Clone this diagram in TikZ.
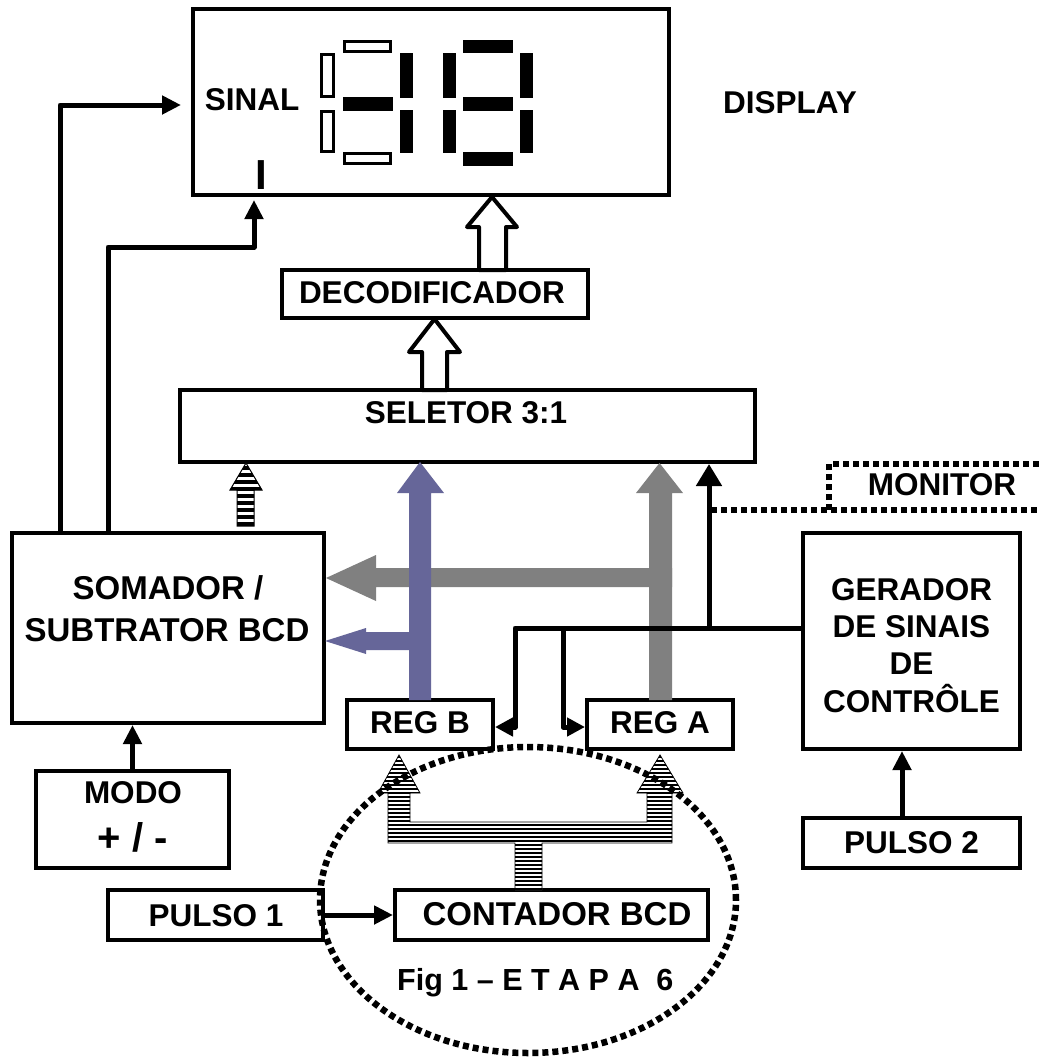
\documentclass[tikz,border=0pt]{standalone}
\usepackage{fontspec}
\setmainfont{Liberation Sans}
\usetikzlibrary{arrows.meta}
\definecolor{regbcol}{HTML}{666699}
\definecolor{regacol}{HTML}{808080}
\newcommand\bigfont{\fontsize{31.5}{37}\selectfont\bfseries}
\begin{document}
\begin{tikzpicture}[x=1pt,y=-1pt,
  box/.style={draw,line width=4pt,fill=white,inner sep=0pt},
  txt/.style={inner sep=0pt,font=\bigfont,anchor=base},
  conn/.style={line width=5pt,-{Triangle[length=19pt,width=18pt]}},
  ctl/.style={line width=5pt,line join=round,-{Triangle[length=18pt,width=18pt]}},
  segon/.style={fill=black},
  segoff/.style={draw,line width=3pt,fill=white},
  hollow/.style={draw,line width=4pt,fill=white,line join=round},
  dotline/.style={line width=6.5pt,dash pattern=on 6pt off 4pt}]
\useasboundingbox[fill=white] (0,0) rectangle (1040,1061);

% ---------- boxes ----------
\node[box,minimum width=476pt,minimum height=186pt] (disp) at (431,102) {};
\node[box,minimum width=306pt,minimum height=48pt] (dec) at (435,294) {};
\node[box,minimum width=575pt,minimum height=72pt] (sel) at (467.5,426) {};
\node[box,minimum width=312pt,minimum height=190pt] (som) at (168,628) {};
\node[box,minimum width=146pt,minimum height=49pt] (regb) at (420,724.5) {};
\node[box,minimum width=146pt,minimum height=49pt] (rega) at (660,724.5) {};
\node[box,minimum width=217pt,minimum height=216pt] (ger) at (911.5,641) {};
\node[box,minimum width=193pt,minimum height=97pt] (modo) at (132.5,819.5) {};
\node[box,minimum width=217pt,minimum height=50pt] (p2) at (911.5,843) {};
\node[box,minimum width=215pt,minimum height=50pt] (p1) at (215.5,915) {};
\node[box,minimum width=313pt,minimum height=50pt] (cont) at (551.5,915) {};

% ---------- texts ----------
\node[txt] (tsinal) at (252,110) {SINAL};
\node[txt,font=\fontsize{42}{46}\selectfont\bfseries] (tsign) at (261.5,189) {I};
\node[txt] (tdisp) at (790,113) {DISPLAY};
\node[txt] (tdec) at (432,303) {DECODIFICADOR};
\node[txt] (tsel) at (466,423) {SELETOR 3:1};
\node[txt,font=\fontsize{33}{38}\selectfont\bfseries] (tsom1) at (168,599) {SOMADOR /};
\node[txt,font=\fontsize{33}{38}\selectfont\bfseries] (tsom2) at (167,641) {SUBTRATOR BCD};
\node[txt] (tregb) at (420,733) {REG B};
\node[txt] (trega) at (660,733) {REG A};
\node[txt] (tger1) at (911.5,600) {GERADOR};
\node[txt] (tger2) at (911.5,637) {DE SINAIS};
\node[txt] (tger3) at (911.5,674) {DE};
\node[txt] (tger4) at (911.5,712) {CONTRÔLE};
\node[txt] (tmon) at (942,495) {MONITOR};
\node[txt] (tmodo1) at (133,803) {MODO};
\node[txt,font=\fontsize{40}{44}\selectfont\bfseries] (tmodo2) at (133,851) {+ / -};
\node[txt] (tp2) at (911.5,853) {PULSO 2};
\node[txt] (tp1) at (216,926) {PULSO 1};
\node[txt,font=\fontsize{33}{38}\selectfont\bfseries] (tcont) at (557,925) {CONTADOR BCD};
\node[txt,font=\fontsize{30.5}{34}\selectfont\bfseries,anchor=base west] (tfig) at (397,990) {Fig 1 -- E T A P A\ \ 6};

% ---------- seven segment digits ----------
% digit 1
\draw[segoff] (344.5,41.5) rectangle (390.5,51.5);
\draw[segoff] (321.5,54.5) rectangle (333.5,96.5);
\fill[segon] (343,97) rectangle (393,111);
\draw[segoff] (321.5,111.5) rectangle (333.5,151.5);
\draw[segoff] (344.5,153.5) rectangle (390.5,163.5);
\fill[segon] (400,53) rectangle (413,98);
\fill[segon] (400,110) rectangle (413,153);
% digit 2
\fill[segon] (463,40) rectangle (513,53);
\fill[segon] (443,53) rectangle (456,98);
\fill[segon] (520,53) rectangle (533,98);
\fill[segon] (463,97) rectangle (513,111);
\fill[segon] (443,110) rectangle (456,153);
\fill[segon] (520,110) rectangle (533,153);
\fill[segon] (463,152) rectangle (513,166);

% ---------- sign lines to display ----------
\coordinate (bend1) at (60,105);
\draw[conn,line join=round,shorten >=10pt] (som.north -| bend1) -- (bend1) -- (bend1 -| disp.west);
\coordinate (bend2) at (108,247);
\coordinate (bend3) at (254,247);
\draw[conn,line join=round,shorten >=3pt] (som.north -| bend2) -- (bend2) -- (bend3) -- (bend3 |- disp.south);

% ---------- hollow bus arrows ----------
\draw[hollow] (492,197) -- (517,227) -- (506,227) -- (506,270) -- (479,270) -- (479,227) -- (467,227) -- cycle;
\draw[hollow] (434.5,319) -- (460,352) -- (447,352) -- (447,390) -- (422,390) -- (422,352) -- (409,352) -- cycle;

% ---------- striped arrow from adder to selector ----------
\begin{scope}
  \clip (246,463) -- (262,490) -- (254,490) -- (254,526) -- (237,526) -- (237,490) -- (230,490) -- cycle;
  \fill[white] (225,460) rectangle (265,530);
  \foreach \k in {0,...,8} \fill (225,{466+7*\k}) rectangle (265,{469.5+7*\k});
\end{scope}
\draw[line width=1pt] (246,463) -- (262,490) -- (254,490) -- (254,526) -- (237,526) -- (237,490) -- (230,490) -- cycle;

% ---------- grey (REG A) bus ----------
\fill[regacol] (672,568) -- (376,568) -- (376,555) -- (326,578) -- (376,601) -- (376,587) -- (672,587) -- cycle;
\fill[regacol] (649,700) -- (649,493) -- (636,493) -- (659.5,463) -- (683,493) -- (672,493) -- (672,700) -- cycle;

% ---------- purple (REG B) bus ----------
\fill[regbcol] (409,700) -- (409,493) -- (397,493) -- (420,462) -- (444,493) -- (431,493) -- (431,700) -- cycle;
\fill[regbcol] (409,632) -- (366,632) -- (366,628) -- (325,641) -- (366,654) -- (366,650) -- (409,650) -- cycle;

% ---------- control lines ----------
\draw[ctl] (ger.west |- 0,628) -- (515,628) -- (515,727) -- (regb.east |- 0,727);
\draw[ctl] (563,628) -- (563,727) -- (rega.west |- 0,727);
\draw[line width=5pt,-{Triangle[length=22pt,width=25pt]}] (709,630) -- (sel.south -| 709,0);

% ---------- monitor ----------
\draw[dotline] (711,510) -- (1040,510);
\draw[dotline] (829,510) -- (829,464) -- (1040,464);

% ---------- other inputs ----------
\draw[conn] (modo.north) -- (modo.north |- som.south);
\coordinate (p2x) at (902,0);
\draw[conn] (p2.north -| p2x) -- (ger.south -| p2x);
\draw[conn] (p1.east) -- (cont.west);

% ---------- striped T bus from counter to registers ----------
\begin{scope}
  \clip (399,755) -- (420,793) -- (410,793) -- (410,822) -- (647,822) -- (647,793) -- (637,793) -- (660,755) -- (683,793) -- (672,793) -- (672,843) -- (542,843) -- (542,890) -- (515,890) -- (515,843) -- (388,843) -- (388,793) -- (378,793) -- cycle;
  \fill[white] (370,750) rectangle (690,895);
  \foreach \k in {0,...,34} \fill (370,{756+4*\k}) rectangle (690,{758.3+4*\k});
\end{scope}
\draw[line width=0.8pt] (399,755) -- (420,793) -- (410,793) -- (410,822) -- (647,822) -- (647,793) -- (637,793) -- (660,755) -- (683,793) -- (672,793) -- (672,843) -- (542,843) -- (542,890) -- (515,890) -- (515,843) -- (388,843) -- (388,793) -- (378,793) -- cycle;

% ---------- dotted ellipse ----------
\draw[dotline] (528,900) ellipse [x radius=208pt, y radius=153pt];
\end{tikzpicture}
\end{document}
